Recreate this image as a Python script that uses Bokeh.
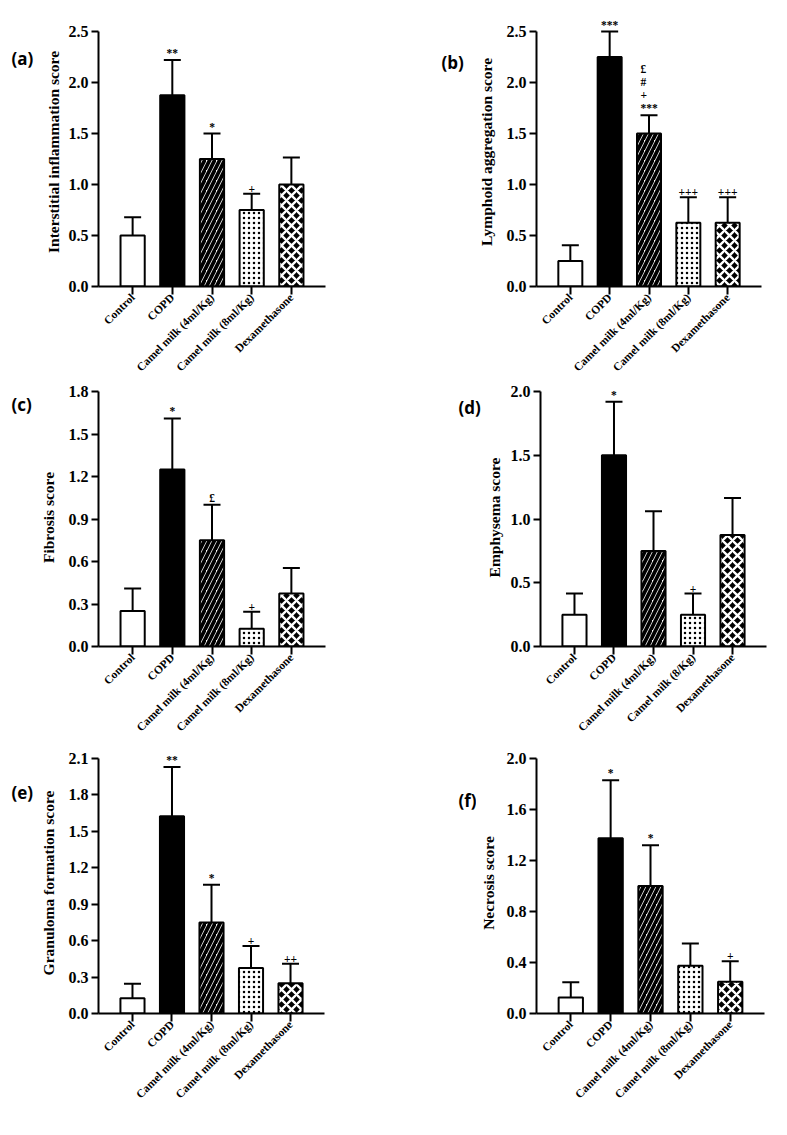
from math import pi
from bokeh.plotting import figure
from bokeh.models import (ColumnDataSource, FactorRange, Range1d, Whisker, TeeHead,
                          LabelSet, FixedTicker, PrintfTickFormatter)
from bokeh.core.properties import value
from bokeh.layouts import column, row
from bokeh.embed import file_html
from bokeh.resources import INLINE

# ---------------- data ----------------
groups = ["Control", "COPD", "Camel milk (4ml/Kg)", "Camel milk (8ml/Kg)", "Dexamethasone"]
groups_d = ["Control", "COPD", "Camel milk (4ml/Kg)", "Camel milk (8/Kg)", "Dexamethasone"]

inflam_mean = [0.5, 1.875, 1.25, 0.75, 1.0]
inflam_sem = [0.18, 0.345, 0.25, 0.16, 0.265]
inflam_marks = ["", "**", "*", "+", ""]
inflam_ticks = [0.0, 0.5, 1.0, 1.5, 2.0, 2.5]

lymph_mean = [0.25, 2.25, 1.5, 0.625, 0.625]
lymph_sem = [0.155, 0.25, 0.18, 0.25, 0.25]
lymph_marks = ["", "***", "£\n#\n+\n***", "+++", "+++"]
lymph_ticks = [0.0, 0.5, 1.0, 1.5, 2.0, 2.5]

fibro_mean = [0.25, 1.25, 0.75, 0.125, 0.375]
fibro_sem = [0.16, 0.36, 0.25, 0.12, 0.18]
fibro_marks = ["", "*", "£", "+", ""]
fibro_ticks = [0.0, 0.3, 0.6, 0.9, 1.2, 1.5, 1.8]

emph_mean = [0.25, 1.5, 0.75, 0.25, 0.875]
emph_sem = [0.165, 0.42, 0.31, 0.165, 0.29]
emph_marks = ["", "*", "", "+", ""]
emph_ticks = [0.0, 0.5, 1.0, 1.5, 2.0]

gran_mean = [0.125, 1.625, 0.75, 0.375, 0.25]
gran_sem = [0.12, 0.405, 0.31, 0.18, 0.16]
gran_marks = ["", "**", "*", "+", "++"]
gran_ticks = [0.0, 0.3, 0.6, 0.9, 1.2, 1.5, 1.8, 2.1]

necro_mean = [0.125, 1.375, 1.0, 0.375, 0.25]
necro_sem = [0.12, 0.455, 0.32, 0.175, 0.16]
necro_marks = ["", "*", "*", "", "+"]
necro_ticks = [0.0, 0.4, 0.8, 1.2, 1.6, 2.0]

panel_tags = ["(a)", "(b)", "(c)", "(d)", "(e)", "(f)"]

# ---------------- styles ----------------
BAR_FILL = ["white", "black", "white", "white", "black"]
BAR_HATCH = [" ", " ", "/", ".", "x"]
BAR_HCOLOR = ["black", "black", "black", "black", "white"]
BAR_HSCALE = [8, 8, 10, 5, 10]
BAR_HWEIGHT = [1, 1, 3.8, 2.0, 2.3]

SERIF = "Liberation Serif"
AXIS_PX = 255  # pixel height from 0 to the top tick


def make_panel(cats, mean, sem, marks, ticks, ylabel, fw, bl, br, bt, bb, pad,
               ylabel_standoff):
    upper = [m + s for m, s in zip(mean, sem)]
    src = ColumnDataSource(dict(x=cats, top=mean, upper=upper, mark=marks,
                                fill=BAR_FILL, hatch=BAR_HATCH, hcolor=BAR_HCOLOR,
                                hscale=BAR_HSCALE, hweight=BAR_HWEIGHT))
    top = ticks[-1]
    p = figure(x_range=FactorRange(factors=cats, range_padding=0.36,
                                   range_padding_units="absolute"),
               y_range=Range1d(ticks[0], top + pad * top / AXIS_PX),
               frame_width=fw, frame_height=AXIS_PX + pad,
               min_border_left=bl, min_border_right=br,
               min_border_top=bt, min_border_bottom=bb,
               output_backend="svg", toolbar_location=None)
    p.outline_line_color = None
    p.grid.visible = False

    p.vbar(x="x", top="top", width=0.61, source=src, fill_color="fill",
           line_color="black", line_width=2, hatch_pattern="hatch",
           hatch_color="hcolor", hatch_scale="hscale", hatch_weight="hweight")

    p.add_layout(Whisker(source=src, base="x", lower="top", upper="upper",
                         line_color="black", line_width=2, lower_head=None,
                         upper_head=TeeHead(size=17, line_color="black", line_width=2)))
    p.add_layout(LabelSet(source=src, x="x", y="upper", text="mark", y_offset=1,
                          text_align="center", text_baseline="bottom",
                          text_font=SERIF, text_font_style="bold",
                          text_font_size="11.5px", text_color="black",
                          text_line_height=1.1))

    yax = p.yaxis[0]
    yax.ticker = FixedTicker(ticks=ticks)
    yax.formatter = PrintfTickFormatter(format="%.1f")
    yax.bounds = (ticks[0], top)
    yax.minor_tick_line_color = None
    yax.axis_label = ylabel
    yax.axis_label_standoff = ylabel_standoff

    xax = p.xaxis[0]
    xax.major_label_orientation = pi / 4
    xax.major_label_standoff = 1

    for ax in (xax, yax):
        ax.axis_line_width = 2
        ax.axis_line_color = "black"
        ax.major_tick_line_width = 2
        ax.major_tick_line_color = "black"
        ax.major_tick_in = 0
        ax.major_tick_out = 8
        ax.major_label_text_font = SERIF
        ax.major_label_text_font_style = "bold"
        ax.major_label_text_color = "black"
        ax.axis_label_text_font = SERIF
        ax.axis_label_text_font_style = "bold"
        ax.axis_label_text_font_size = "15.5px"
        ax.axis_label_text_color = "black"
    yax.major_tick_out = 7
    yax.major_label_standoff = 3
    yax.major_label_text_font_size = "16px"
    xax.major_label_text_font_size = "11.5px"
    return p


def make_tag(tag, w, x, y_from_top, h=120):
    # a small axis-less figure whose data units are pixels, holding the panel letter
    t = figure(frame_width=w, frame_height=h, x_range=Range1d(0, w),
               y_range=Range1d(0, h), min_border=0,
               x_axis_location=None, y_axis_location=None,
               output_backend="svg", toolbar_location=None)
    t.outline_line_color = None
    t.grid.visible = False
    t.text(x=[x], y=[h - y_from_top], text=[tag], text_font=value("Open Sans"),
           text_font_style="bold", text_font_size="17px",
           text_baseline="middle", text_align="left", text_color="black")
    return t


pa = make_panel(groups, inflam_mean, inflam_sem, inflam_marks, inflam_ticks,
                "Interstitial inflammation score", 227, 62, 73, 16, 94, 14, 4)
pb = make_panel(groups, lymph_mean, lymph_sem, lymph_marks, lymph_ticks,
                "Lymphoid aggregation score", 225, 57, 10, 17, 94, 14, 9)
pc = make_panel(groups, fibro_mean, fibro_sem, fibro_marks, fibro_ticks,
                "Fibrosis score", 227, 58, 77, 8, 98, 3, 9)
pd = make_panel(groups_d, emph_mean, emph_sem, emph_marks, emph_ticks,
                "Emphysema score", 226, 53, 10, 5, 101, 3, 5)
pe = make_panel(groups, gran_mean, gran_sem, gran_marks, gran_ticks,
                "Granuloma formation score", 226, 57, 79, 8, 100, 6, 9)
pf = make_panel(groups, necro_mean, necro_sem, necro_marks, necro_ticks,
                "Necrosis score", 228, 55, 10, 2, 106, 6, 7)

ta = make_tag(panel_tags[0], 36, 11, 41)
tb = make_tag(panel_tags[1], 76, 43, 45)
tc = make_tag(panel_tags[2], 36, 11, 16)
td = make_tag(panel_tags[3], 80, 56, 19)
te = make_tag(panel_tags[4], 36, 11, 40)
tf = make_tag(panel_tags[5], 73, 55, 48)

layout = column(row(ta, pa, tb, pb), row(tc, pc, td, pd), row(te, pe, tf, pf))

open("out.html", "w").write(file_html(layout, INLINE))
